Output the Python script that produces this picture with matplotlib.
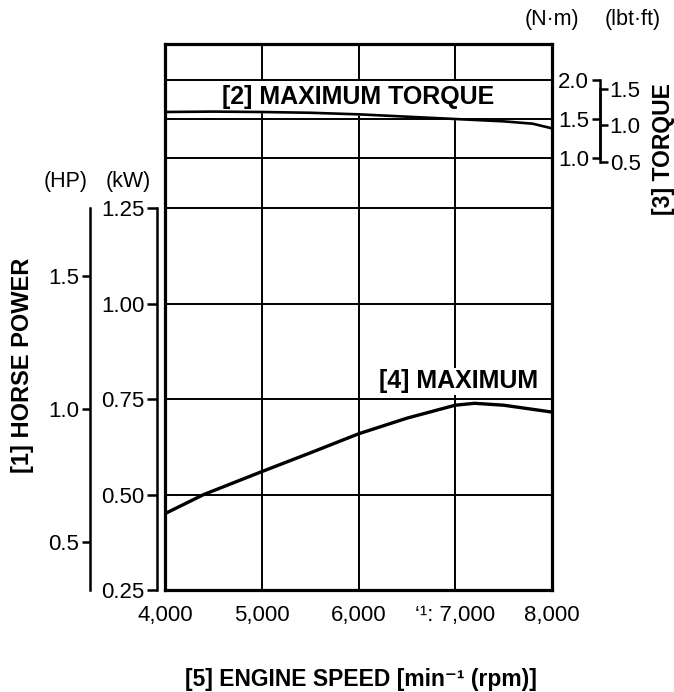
import matplotlib
matplotlib.use("Agg")
import matplotlib.pyplot as plt

plt.rcParams['font.family'] = ['Liberation Sans', 'DejaVu Sans']

# === Data ===
rpm = [4000, 4400, 5000, 5500, 6000, 6500, 7000, 7200, 7500, 8000]
power_kw = [0.45, 0.50, 0.560, 0.609, 0.659, 0.700, 0.734, 0.739, 0.734, 0.716]

rpm_t = [4000, 4500, 5000, 5500, 6000, 6500, 7000, 7500, 7800, 8000]
torque_nm = [1.59, 1.595, 1.59, 1.58, 1.56, 1.53, 1.50, 1.47, 1.44, 1.38]

x_ticks = [4000, 5000, 6000, 7000, 8000]
x_labels = ["4,000", "5,000", "6,000", "\u2018\u00b9: 7,000", "8,000"]
kw_ticks = [0.25, 0.50, 0.75, 1.00, 1.25]
hp_ticks = [0.5, 1.0, 1.5]
nm_ticks = [1.0, 1.5, 2.0]
lb_ticks = [0.5, 1.0, 1.5]

# scale placement (how the side scales sit against the kW / N.m grid)
KW_LIM = (0.25, 1.68)
NM_LIM = (-4.538, 2.4615)
hp_of_kw = lambda k: 1 + (k - 0.725) / 0.697
lb_of_nm = lambda n: (n - 0.95) / 0.935 + 0.5

TICK_FS = 16
BOLD_FS = 18

fig = plt.figure(figsize=(6.74, 6.92), dpi=100)
ax = fig.add_axes([0.2448, 0.1474, 0.5742, 0.789])

# --- power (kW) axis ---
ax.set_xlim(4000, 8000)
ax.set_ylim(*KW_LIM)
for v in [5000, 6000, 7000]:
    ax.axvline(v, color='black', lw=1.4, zorder=1)
for k in kw_ticks[1:]:
    ax.axhline(k, color='black', lw=1.4, zorder=1)
ax.plot(rpm, power_kw, color='black', lw=2.4, zorder=3)
ax.text(7860, 0.797, "[4] MAXIMUM", ha='right', va='center', fontsize=BOLD_FS,
        fontweight='bold', zorder=4,
        bbox=dict(facecolor='white', edgecolor='none', pad=1))

for s in ['top', 'right', 'bottom']:
    ax.spines[s].set_visible(False)
ax.spines['left'].set_position(('axes', -0.0207))
ax.spines['left'].set_bounds(0.25, 1.25)
ax.spines['left'].set_linewidth(1.8)
ax.set_yticks(kw_ticks)
ax.set_yticklabels(["%.2f" % k for k in kw_ticks], fontsize=TICK_FS)
ax.tick_params(axis='y', direction='out', length=7, width=1.8, pad=2)
ax.set_xticks(x_ticks)
ax.set_xticklabels(x_labels, fontsize=TICK_FS)
ax.tick_params(axis='x', length=0, pad=11)

# --- torque (N.m) axis, holds the frame ---
axt = ax.twinx()
axt.set_ylim(*NM_LIM)
axt.fill_between(rpm_t, torque_nm, 2.0, color='white', zorder=1)
for n in nm_ticks:
    axt.axhline(n, color='black', lw=1.4, zorder=2)
axt.plot(rpm_t, torque_nm, color='black', lw=1.9, zorder=3)
axt.text(6000, 1.78, "[2] MAXIMUM TORQUE", ha='center', va='center',
         fontsize=BOLD_FS, fontweight='bold', zorder=4)
axt.set_yticks([])
for s in axt.spines.values():
    s.set_linewidth(2.3)
    s.set_zorder(5)

# --- HP scale ---
axh = ax.twinx()
axh.set_ylim(hp_of_kw(KW_LIM[0]), hp_of_kw(KW_LIM[1]))
for s in ['top', 'right', 'bottom']:
    axh.spines[s].set_visible(False)
axh.yaxis.tick_left()
axh.spines['left'].set_position(('axes', -0.194))
axh.spines['left'].set_bounds(hp_of_kw(0.25), hp_of_kw(1.25))
axh.spines['left'].set_linewidth(1.8)
axh.set_yticks(hp_ticks)
axh.set_yticklabels(["%.1f" % h for h in hp_ticks], fontsize=TICK_FS)
axh.tick_params(axis='y', direction='out', length=6, width=1.8, pad=2)

# --- N.m tick scale (labels to the left of the spine) ---
axn = ax.twinx()
axn.set_ylim(*NM_LIM)
for s in ['top', 'right', 'bottom']:
    axn.spines[s].set_visible(False)
axn.yaxis.tick_left()
axn.spines['left'].set_position(('axes', 1.124))
axn.spines['left'].set_bounds(1.0, 2.0)
axn.spines['left'].set_linewidth(1.8)
axn.set_yticks(nm_ticks)
axn.set_yticklabels(["%.1f" % n for n in nm_ticks], fontsize=TICK_FS)
axn.tick_params(axis='y', direction='out', length=6, width=1.8, pad=2)

# --- lbf.ft tick scale (labels to the right of the same spine) ---
axl = ax.twinx()
axl.set_ylim(lb_of_nm(NM_LIM[0]), lb_of_nm(NM_LIM[1]))
for s in ['top', 'left', 'bottom']:
    axl.spines[s].set_visible(False)
axl.spines['right'].set_position(('axes', 1.124))
axl.spines['right'].set_bounds(0.5, 1.5)
axl.spines['right'].set_linewidth(1.8)
axl.set_yticks(lb_ticks)
axl.set_yticklabels(["%.1f" % v for v in lb_ticks], fontsize=TICK_FS)
axl.tick_params(axis='y', direction='out', length=6, width=1.8, pad=1)

# --- titles / units ---
fig.text(0.0334, 0.4725, "[1] HORSE POWER", rotation=90, ha='center', va='center',
         fontsize=17, fontweight='bold')
fig.text(0.984, 0.785, "[3] TORQUE", rotation=90, ha='center', va='center',
         fontsize=16.5, fontweight='bold')
fig.text(0.536, 0.009, "[5] ENGINE SPEED [min\u207b\u00b9 (rpm)]", ha='center',
         va='baseline', fontsize=16.5, fontweight='bold')
fig.text(0.097, 0.737, "(HP)", ha='center', va='center', fontsize=15.5)
fig.text(0.19, 0.737, "(kW)", ha='center', va='center', fontsize=15.5)
fig.text(0.819, 0.972, "(N\u00b7m)", ha='center', va='center', fontsize=15.5)
fig.text(0.939, 0.972, "(lbt\u00b7ft)", ha='center', va='center', fontsize=15.5)

fig.savefig("out.png", dpi=100)
